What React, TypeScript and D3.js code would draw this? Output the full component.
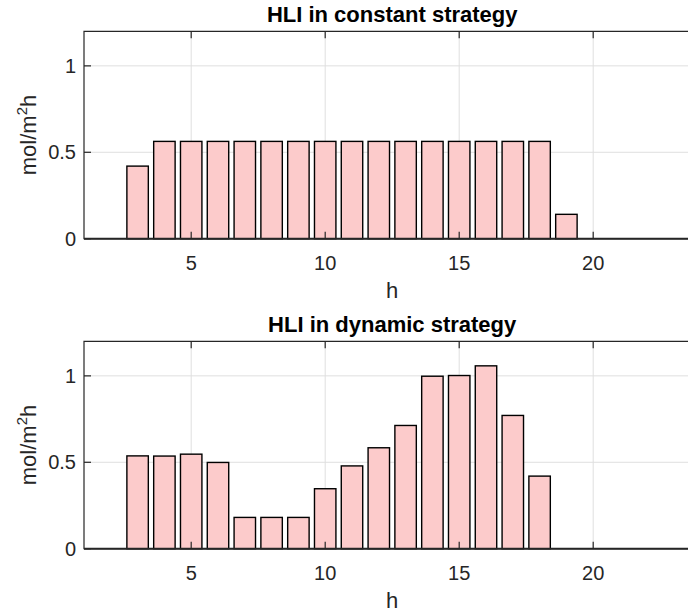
import React, { useEffect, useRef } from 'react';
import * as d3 from 'd3';

const hours = d3.range(1, 25);
const constantHLI = [
  0, 0, 0.42, 0.563, 0.563, 0.563, 0.563, 0.563, 0.563, 0.563, 0.563, 0.563,
  0.563, 0.563, 0.563, 0.563, 0.563, 0.563, 0.141, 0, 0, 0, 0, 0,
];
const dynamicHLI = [
  0, 0, 0.537, 0.536, 0.547, 0.499, 0.181, 0.181, 0.181, 0.347, 0.479, 0.584,
  0.713, 0.998, 1.002, 1.058, 0.771, 0.42, 0, 0, 0, 0, 0, 0,
];
const xTicks = [5, 10, 15, 20];
const yTicks = [0, 0.5, 1];
const panels = [
  { title: 'HLI in constant strategy', values: constantHLI },
  { title: 'HLI in dynamic strategy', values: dynamicHLI },
];

const W = 688;
const H = 616;
const FONT = '"Liberation Sans", Arial, Helvetica, sans-serif';

const App = () => {
  const svgRef = useRef(null);

  useEffect(() => {
    const svg = d3.select(svgRef.current);
    svg.selectAll('*').remove();

    const left = 84;
    const right = 700.4;
    const x = d3.scaleLinear().domain([1, 24]).range([left, right]);

    panels.forEach((p, i) => {
      const off = i * 310;
      const top = 31.3 + off;
      const bottom = 238.7 + off;
      const y = d3.scaleLinear().domain([0, 1.2]).range([bottom, top]);
      const g = svg.append('g');

      const clipId = `clip-${i}`;
      svg
        .append('defs')
        .append('clipPath')
        .attr('id', clipId)
        .append('rect')
        .attr('x', left)
        .attr('y', top - 2)
        .attr('width', right - left)
        .attr('height', bottom - top + 4);

      // grid
      g.selectAll('.vgrid')
        .data(xTicks)
        .enter()
        .append('line')
        .attr('x1', (d) => x(d))
        .attr('x2', (d) => x(d))
        .attr('y1', top)
        .attr('y2', bottom)
        .attr('stroke', '#dfdfdf')
        .attr('stroke-width', 1);
      g.selectAll('.hgrid')
        .data(yTicks.slice(1))
        .enter()
        .append('line')
        .attr('x1', left)
        .attr('x2', right)
        .attr('y1', (d) => y(d))
        .attr('y2', (d) => y(d))
        .attr('stroke', '#dfdfdf')
        .attr('stroke-width', 1);

      // bars
      const bw = 0.8;
      g.append('g')
        .attr('clip-path', `url(#${clipId})`)
        .selectAll('rect')
        .data(p.values)
        .enter()
        .append('rect')
        .attr('x', (d, j) => x(hours[j] - bw / 2))
        .attr('y', (d) => y(d))
        .attr('width', x(1 + bw) - x(1))
        .attr('height', (d) => bottom - y(d))
        .attr('fill', '#fccbcb')
        .attr('stroke', '#000')
        .attr('stroke-width', 1.4);

      // baseline
      g.append('line')
        .attr('x1', left)
        .attr('x2', right)
        .attr('y1', y(0))
        .attr('y2', y(0))
        .attr('stroke', '#262626')
        .attr('stroke-width', 2);

      // box
      g.append('path')
        .attr('d', `M${right},${top}H${left}V${bottom}H${right}`)
        .attr('fill', 'none')
        .attr('stroke', '#262626')
        .attr('stroke-width', 1.2);

      // tick marks
      xTicks.forEach((t) => {
        g.append('line')
          .attr('x1', x(t)).attr('x2', x(t))
          .attr('y1', bottom).attr('y2', bottom - 7)
          .attr('stroke', '#262626').attr('stroke-width', 1.2);
        g.append('line')
          .attr('x1', x(t)).attr('x2', x(t))
          .attr('y1', top).attr('y2', top + 7)
          .attr('stroke', '#262626').attr('stroke-width', 1.2);
      });
      yTicks.forEach((t) => {
        g.append('line')
          .attr('x1', left).attr('x2', left + 7)
          .attr('y1', y(t)).attr('y2', y(t))
          .attr('stroke', '#262626').attr('stroke-width', 1.2);
      });

      // tick labels
      g.selectAll('.xt')
        .data(xTicks)
        .enter()
        .append('text')
        .attr('x', (d) => x(d))
        .attr('y', bottom + 31)
        .attr('text-anchor', 'middle')
        .attr('font-family', FONT)
        .attr('font-size', 20)
        .attr('fill', '#262626')
        .text((d) => d);
      g.selectAll('.yt')
        .data(yTicks)
        .enter()
        .append('text')
        .attr('x', left - 8)
        .attr('y', (d) => y(d) + 7)
        .attr('text-anchor', 'end')
        .attr('font-family', FONT)
        .attr('font-size', 20)
        .attr('fill', '#262626')
        .text((d) => d);

      // title
      g.append('text')
        .attr('x', (left + right) / 2)
        .attr('y', top - 9)
        .attr('text-anchor', 'middle')
        .attr('font-family', FONT)
        .attr('font-size', 22)
        .attr('font-weight', 'bold')
        .attr('fill', '#000')
        .text(p.title);

      // x label
      g.append('text')
        .attr('x', (left + right) / 2)
        .attr('y', bottom + 59)
        .attr('text-anchor', 'middle')
        .attr('font-family', FONT)
        .attr('font-size', 22)
        .attr('fill', '#262626')
        .text('h');

      // y label
      const yl = g
        .append('text')
        .attr('transform', `translate(36,${(top + bottom) / 2}) rotate(-90)`)
        .attr('text-anchor', 'middle')
        .attr('font-family', FONT)
        .attr('font-size', 22)
        .attr('fill', '#262626');
      yl.append('tspan').text('mol/m');
      yl.append('tspan').attr('font-size', 15).attr('dy', -9).text('2');
      yl.append('tspan').attr('dy', 9).text('h');
    });
  }, []);

  return (
    <svg
      ref={svgRef}
      width={W}
      height={H}
      style={{ position: 'absolute', left: 0, top: 0, background: '#fff' }}
    ></svg>
  );
};

export default App;
